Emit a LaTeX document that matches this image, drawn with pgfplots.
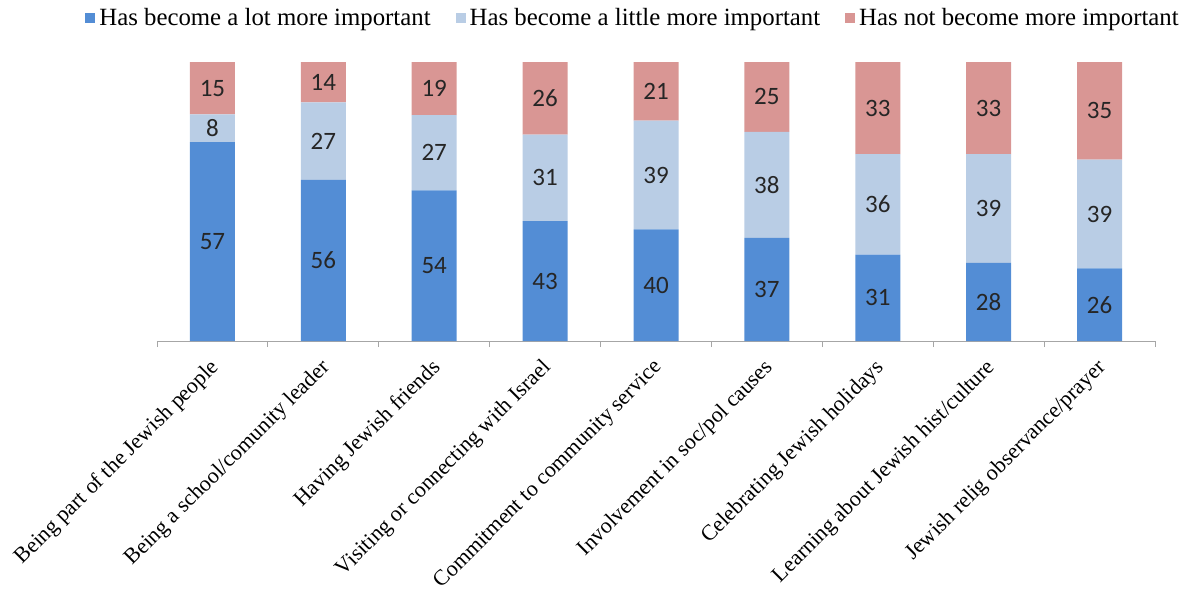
\documentclass[border=0pt]{standalone}
\usepackage{pgfplots}
\usepackage{pgfplotstable}
\pgfplotsset{compat=1.18}
\usepackage{fontspec}
\setmainfont{Liberation Serif}
\newfontfamily\calib{Carlito}
\definecolor{cA}{RGB}{83,141,213}
\definecolor{cB}{RGB}{185,205,229}
\definecolor{cC}{RGB}{217,150,148}
\pgfplotstableread{
x a b c
0 57 8 15
1 56 27 14
2 54 27 19
3 43 31 26
4 40 39 21
5 37 38 25
6 31 36 33
7 28 39 33
8 26 39 35
}\data
\pgfplotsset{
  geom/.style={
    at={(0,0)}, anchor=south west,
    scale only axis, width=499pt, height=139.5pt,
    xmin=-0.5, xmax=8.5, ymin=0, ymax=100,
  }
}
\begin{document}
\begin{tikzpicture}
\useasboundingbox (-78.5pt,-127pt) rectangle (516.5pt,170.5pt);
\begin{axis}[
  geom,
  ybar stacked, bar width=22.5pt,
  axis x line*=bottom, axis y line=none,
  x axis line style={gray!70, -},
  xtick={0,...,8},
  xticklabels={Being part of the Jewish people, Being a school/comunity leader, Having Jewish friends, Visiting or connecting with Israel, Commitment to community service, Involvement in soc/pol causes, Celebrating Jewish holidays, Learning about Jewish hist/culture, Jewish relig observance/prayer},
  major tick length=0pt,
  minor xtick={-0.5,0.5,...,8.5},
  minor tick length=3pt,
  tick align=outside,
  tick style={gray!70, thin},
  xticklabel style={rotate=45, anchor=east, font=\fontsize{11}{12}\selectfont, inner sep=1pt, xshift=-6pt, yshift=-9.5pt},
  legend image code/.code={\fill[#1] (0pt,-2.5pt) rectangle (5pt,2.5pt);},
  legend style={draw=none, at={(0.478,1.158)}, anchor=center, legend columns=3,
    font=\fontsize{12.4}{14}\selectfont,
    /tikz/every even column/.append style={column sep=10.5pt}},
]
\addplot[fill=cA, draw=none]
  table[x=x, y expr={100*\thisrow{a}/(\thisrow{a}+\thisrow{b}+\thisrow{c})}]{\data};
\addplot[fill=cB, draw=none]
  table[x=x, y expr={100*\thisrow{b}/(\thisrow{a}+\thisrow{b}+\thisrow{c})}]{\data};
\addplot[fill=cC, draw=none]
  table[x=x, y expr={100*\thisrow{c}/(\thisrow{a}+\thisrow{b}+\thisrow{c})}]{\data};
\legend{Has become a lot more important, Has become a little more important, Has not become more important}
\end{axis}
\begin{axis}[
  geom, hide axis,
  nodes near coords, point meta=explicit,
  /pgf/number format/assume math mode=true,
  every node near coord/.append style={anchor=center, font=\calib\fontsize{12.5}{14}\selectfont, text=black!85},
]
\addplot[draw=none, mark=none]
  table[x=x, y expr={100*(0.5*\thisrow{a})/(\thisrow{a}+\thisrow{b}+\thisrow{c})}, meta=a]{\data};
\addplot[draw=none, mark=none]
  table[x=x, y expr={100*(\thisrow{a}+0.5*\thisrow{b})/(\thisrow{a}+\thisrow{b}+\thisrow{c})}, meta=b]{\data};
\addplot[draw=none, mark=none]
  table[x=x, y expr={100*(\thisrow{a}+\thisrow{b}+0.5*\thisrow{c})/(\thisrow{a}+\thisrow{b}+\thisrow{c})}, meta=c]{\data};
\end{axis}
\end{tikzpicture}
\end{document}
